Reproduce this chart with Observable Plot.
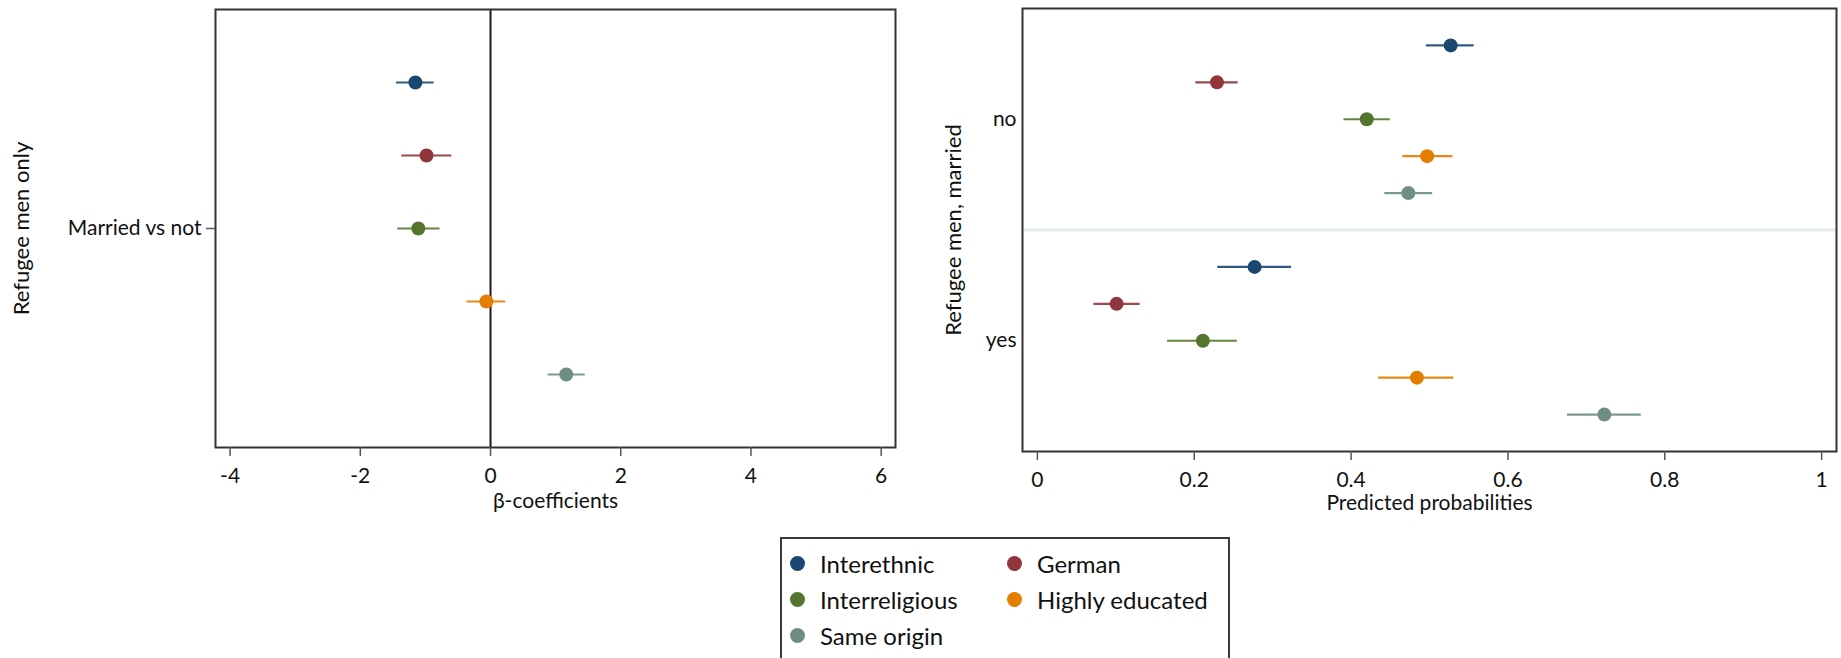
<!DOCTYPE html>
<html>
<head>
<meta charset="utf-8">
<script src="https://cdn.jsdelivr.net/npm/d3@7"></script>
<script src="https://cdn.jsdelivr.net/npm/@observablehq/plot@0.6"></script>
<style>
  html, body { margin: 0; padding: 0; background: #fff; }
  #root { position: relative; width: 1841px; height: 658px; overflow: hidden; background: #fff; font-family: Lato, "Open Sans", sans-serif; }
  #left, #right { position: absolute; top: 0; }
  #left { left: 0; }
  #right { left: 920px; }
  #legend { position: absolute; left: 780px; top: 537px; width: 450px; height: 160px; border: 2px solid #3a3a3a; box-sizing: border-box; }
  .item { position: absolute; display: flex; align-items: center; font-size: 24px; color: #111; white-space: nowrap; }
  .sw { width: 15px; height: 15px; border-radius: 50%; margin-right: 15px; flex: none; }
</style>
</head>
<body>
<div id="root">
  <div id="left"></div>
  <div id="right"></div>
  <div id="legend"></div>
</div>
<script>
// ---- data ----
const categories = ["Interethnic", "German", "Interreligious", "Highly educated", "Same origin"];
const colors = ["#1a476f", "#90353b", "#55752f", "#e37e00", "#6e8e84"];

// Left panel: beta coefficients, married vs not (refugee men only)
const betaEst = [-1.154, -0.983, -1.109, -0.063, 1.163];
const betaLo  = [-1.443, -1.362, -1.425, -0.361, 0.884];
const betaHi  = [-0.866, -0.595, -0.775, 0.234, 1.455];

// Right panel: predicted probabilities by married (no / yes)
const marriedGroups = ["no", "yes"];
const probNoEst  = [0.527, 0.229, 0.420, 0.497, 0.473];
const probNoLo   = [0.496, 0.202, 0.391, 0.466, 0.443];
const probNoHi   = [0.557, 0.256, 0.450, 0.530, 0.504];
const probYesEst = [0.277, 0.101, 0.211, 0.484, 0.723];
const probYesLo  = [0.230, 0.072, 0.166, 0.435, 0.676];
const probYesHi  = [0.324, 0.131, 0.255, 0.531, 0.770];

const betaTicks = [-4, -2, 0, 2, 4, 6];
const probTicks = [0, 0.2, 0.4, 0.6, 0.8, 1];
const probTickLabels = ["0", "0.2", "0.4", "0.6", "0.8", "1"];

const leftYLabel = "Refugee men only";
const leftRowLabel = "Married vs not";
const leftXLabel = "β-coefficients";
const rightYLabel = "Refugee men, married";
const rightXLabel = "Predicted probabilities";

// ---- tables ----
const leftData = categories.map((c, i) => ({cat: c, color: colors[i], est: betaEst[i], lo: betaLo[i], hi: betaHi[i], pos: i + 1}));
const rightData = [];
categories.forEach((c, i) => rightData.push({cat: c, color: colors[i], grp: "no", est: probNoEst[i], lo: probNoLo[i], hi: probNoHi[i], pos: i + 1}));
categories.forEach((c, i) => rightData.push({cat: c, color: colors[i], grp: "yes", est: probYesEst[i], lo: probYesLo[i], hi: probYesHi[i], pos: i + 7}));

const font = "Lato, 'Open Sans', sans-serif";
const tickFont = 21;
const titleFont = 22;

// ---- left plot ----
const left = Plot.plot({
  width: 920, height: 520,
  marginLeft: 215, marginRight: 25, marginTop: 9, marginBottom: 73,
  x: {domain: [-4.224, 6.22]},
  y: {domain: [0, 6], reverse: true},
  style: {fontFamily: font, fontSize: tickFont + "px", color: "#111", background: "transparent", overflow: "visible"},
  marks: [
    Plot.ruleX([0], {stroke: "#1a1a1a", strokeWidth: 2}),
    Plot.ruleY(leftData, {y: "pos", x1: "lo", x2: "hi", stroke: "color", strokeWidth: 2.2, strokeOpacity: 0.9}),
    Plot.dot(leftData, {x: "est", y: "pos", r: 7, fill: "color", stroke: "none"}),
    Plot.frame({stroke: "#333", strokeWidth: 2}),
    Plot.axisX({ticks: betaTicks, tickSize: 9, tickPadding: 12, stroke: "#555", strokeWidth: 1.5, fontSize: tickFont, label: null, tickFormat: d => d < 0 ? "-" + Math.abs(d) : String(d)}),
    Plot.axisY({ticks: [3], tickSize: 9, tickPadding: 5, stroke: "#555", strokeWidth: 1.5, fontSize: tickFont, label: null, tickFormat: () => leftRowLabel}),
    Plot.text([leftXLabel], {text: d => d, frameAnchor: "bottom", dy: 54, fontSize: tickFont, lineAnchor: "middle", fill: "#111"}),
    Plot.text([leftYLabel], {text: d => d, frameAnchor: "left", textAnchor: "middle", dx: -194, rotate: -90, fontSize: titleFont, lineAnchor: "middle", fill: "#111"})
  ]
});
document.getElementById("left").appendChild(left);

// ---- right plot ----
const right = Plot.plot({
  width: 921, height: 520,
  marginLeft: 102, marginRight: 5, marginTop: 8, marginBottom: 69,
  x: {domain: [-0.019, 1.019]},
  y: {domain: [0, 12], reverse: true},
  style: {fontFamily: font, fontSize: tickFont + "px", color: "#111", background: "transparent", overflow: "visible"},
  marks: [
    Plot.ruleY([6], {stroke: "#e6edf0", strokeWidth: 3}),
    Plot.ruleY(rightData, {y: "pos", x1: "lo", x2: "hi", stroke: "color", strokeWidth: 2.2, strokeOpacity: 0.9}),
    Plot.dot(rightData, {x: "est", y: "pos", r: 7, fill: "color", stroke: "none"}),
    Plot.frame({stroke: "#333", strokeWidth: 2}),
    Plot.axisX({ticks: probTicks, tickSize: 9, tickPadding: 12, stroke: "#555", strokeWidth: 1.5, fontSize: tickFont, label: null, tickFormat: d => probTickLabels[probTicks.indexOf(d)]}),
    Plot.axisY({ticks: [3, 9], tickSize: 0, tickPadding: 6, fontSize: tickFont, label: null, tickFormat: d => marriedGroups[d === 3 ? 0 : 1]}),
    Plot.text([rightXLabel], {text: d => d, frameAnchor: "bottom", dy: 52, fontSize: tickFont, lineAnchor: "middle", fill: "#111"}),
    Plot.text([rightYLabel], {text: d => d, frameAnchor: "left", textAnchor: "middle", dx: -69, rotate: -90, fontSize: titleFont, lineAnchor: "middle", fill: "#111"})
  ]
});
document.getElementById("right").appendChild(right);

// ---- legend ----
const legend = document.getElementById("legend");
const colX = [8, 225];
const rowY = [24, 60, 96];
categories.forEach((c, i) => {
  const el = document.createElement("div");
  el.className = "item";
  el.style.left = colX[i % 2] + "px";
  el.style.top = (rowY[Math.floor(i / 2)] - 14) + "px";
  el.style.height = "28px";
  const sw = document.createElement("span");
  sw.className = "sw";
  sw.style.background = colors[i];
  const tx = document.createElement("span");
  tx.textContent = c;
  el.appendChild(sw);
  el.appendChild(tx);
  legend.appendChild(el);
});
</script>
</body>
</html>
